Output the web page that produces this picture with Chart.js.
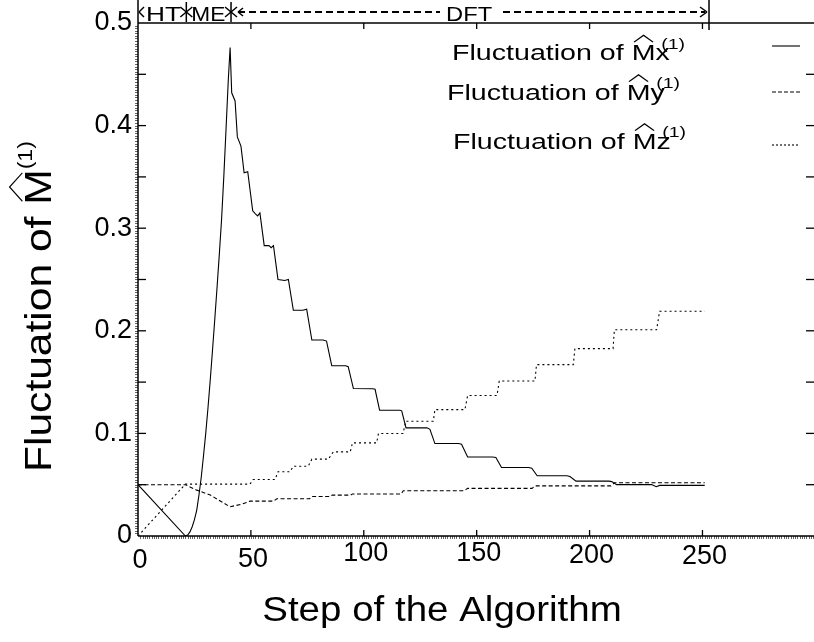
<!DOCTYPE html>
<html>
<head>
<meta charset="utf-8">
<script src="https://cdn.jsdelivr.net/npm/chart.js@4.4.0/dist/chart.umd.min.js"></script>
<style>
  html, body { margin: 0; padding: 0; background: #fff; }
  canvas { display: block; }
</style>
</head>
<body>
<canvas id="chart" width="814" height="642"></canvas>
<script>
// values
const mxSteps = [0, 21, 22, 23, 24, 25, 26, 27, 28, 29, 30, 31, 32, 33, 34, 35, 36, 37, 38, 39, 40, 40.8,
  41.5, 43, 44, 45.6, 47, 48.6, 50.8, 52, 53, 54, 55.9, 58, 59, 60, 62, 65, 66.6, 68.8, 73, 74.7,
  77, 82, 83.5, 85.8, 92, 93.1, 95.4, 104, 105, 107, 116, 116.8, 118.7, 128, 129.3, 131.5, 142, 143.3,
  146, 157, 158.5, 161, 173, 174.4, 176.8, 190, 191.3, 194, 208.5, 209.8, 212, 227.5, 229.5, 231, 251];
const mxValues = [0.05, 0, 0.001, 0.004, 0.009, 0.016, 0.025, 0.04, 0.057, 0.078, 0.1, 0.125, 0.152, 0.181, 0.211, 0.242, 0.274, 0.308, 0.35, 0.397, 0.445, 0.476,
  0.432, 0.424, 0.389, 0.38, 0.354, 0.355, 0.317, 0.314, 0.312, 0.315, 0.283, 0.283, 0.281, 0.283, 0.25, 0.249, 0.25, 0.22, 0.22, 0.221,
  0.191, 0.191, 0.19, 0.166, 0.166, 0.165, 0.1437, 0.1435, 0.143, 0.1226, 0.1226, 0.122, 0.1054, 0.1054, 0.104, 0.0901, 0.0901, 0.0895,
  0.077, 0.077, 0.0765, 0.0668, 0.0668, 0.066, 0.0587, 0.0587, 0.058, 0.0535, 0.0535, 0.053, 0.0501, 0.0501, 0.048, 0.0493, 0.0493];

const mySteps = [0, 21, 26, 32, 40.7, 46, 49.6, 60, 61.5, 76, 77, 85, 86, 94, 95, 116.5, 117.5, 144.5, 146, 174.5, 176, 209.5, 211, 251];
const myValues = [0.05, 0.05, 0.0447, 0.04, 0.0285, 0.031, 0.034, 0.034, 0.0363, 0.0363, 0.0385, 0.0385, 0.0398, 0.0398, 0.0409, 0.0409,
  0.0441, 0.0441, 0.0464, 0.0464, 0.0489, 0.0489, 0.0519, 0.0519];

const mzSteps = [0, 21, 49.6, 51, 60.7, 62, 67.3, 68.8, 75.4, 77, 84.3, 86.5, 94, 95, 105.7, 106.5, 117.4, 118.6, 130.8, 131.5,
  144.8, 146, 159, 160, 175.8, 176.5, 192.8, 193.5, 210.4, 211, 229.7, 231, 251];
const mzValues = [0, 0.0506, 0.0506, 0.055, 0.055, 0.0626, 0.0626, 0.068, 0.068, 0.0749, 0.0749, 0.082, 0.082, 0.0908, 0.0908, 0.0999, 0.0999,
  0.1119, 0.1119, 0.1232, 0.1232, 0.137, 0.137, 0.151, 0.151, 0.167, 0.167, 0.1826, 0.1826, 0.201, 0.201, 0.219, 0.219];

const xTicks = [0, 50, 100, 150, 200, 250];
const xTickRaise = [0, 1, 7, 7, 5, 4];   // the original labels sit unevenly
const yTicks = [0, 0.1, 0.2, 0.3, 0.4, 0.5];
const seriesLetters = ['x', 'y', 'z'];
const phaseLabels = ['HT', 'ME', 'DFT'];
const phaseBounds = [0, 21.4, 41.2, 252.9];

const FONT = '"Liberation Sans", Arial, sans-serif';

function toPoints(steps, values) {
  return steps.map((s, i) => ({ x: s, y: values[i] }));
}

function line(ctx, x1, y1, x2, y2) {
  ctx.beginPath(); ctx.moveTo(x1, y1); ctx.lineTo(x2, y2); ctx.stroke();
}

// "Fluctuation of M^(1)" style label, drawn at baseline (x, y) in the current transform
function mathLabel(ctx, x, y, size, sx, letter, supSize) {
  ctx.save();
  ctx.translate(x, y);
  ctx.scale(sx, 1);
  ctx.font = size + 'px ' + FONT;
  ctx.textAlign = 'left';
  ctx.textBaseline = 'alphabetic';
  ctx.fillStyle = '#000';
  ctx.strokeStyle = '#000';
  ctx.fillText('Fluctuation of', 0, 0);
  let cx = ctx.measureText('Fluctuation of ').width;
  const mw = ctx.measureText('M').width;
  const cap = size * 0.72;
  ctx.fillText('M', cx, 0);
  ctx.lineWidth = 1.1;
  ctx.beginPath();
  ctx.moveTo(cx + mw * 0.1, -cap - 2);
  ctx.lineTo(cx + mw * 0.5, -cap - size * 0.4);
  ctx.lineTo(cx + mw * 0.9, -cap - 2);
  ctx.stroke();
  cx += mw;
  let supX = cx;
  if (letter) {
    const lw = ctx.measureText(letter).width;
    ctx.fillText(letter, cx, 0);
    supX = cx + lw * 0.4;
  }
  ctx.font = supSize + 'px ' + FONT;
  ctx.fillText('(1)', supX, -cap * 0.72);
  ctx.restore();
}

function stretchText(ctx, txt, x, y, size, sx) {
  ctx.save();
  ctx.translate(x, y);
  ctx.scale(sx, 1);
  ctx.font = size + 'px ' + FONT;
  ctx.textAlign = 'left';
  ctx.textBaseline = 'alphabetic';
  ctx.fillStyle = '#000';
  ctx.fillText(txt, 0, 0);
  ctx.restore();
}

const decor = {
  id: 'decor',
  afterDraw(chart) {
    const ctx = chart.ctx;
    const xs = chart.scales.x, ys = chart.scales.y;
    const { left: L, top: T, bottom: B } = chart.chartArea;
    ctx.save();
    ctx.strokeStyle = '#000';
    ctx.fillStyle = '#000';

    // minor ticks (dense hatching along left and bottom axes)
    ctx.lineWidth = 1;
    ctx.strokeStyle = '#666';
    for (let v = 1; v < 300; v++) {
      const px = Math.round(xs.getPixelForValue(v)) + 0.5;
      line(ctx, px, B, px, B + 3);
    }
    for (let v = 0.0025; v < 0.5; v += 0.0025) {
      const py = Math.round(ys.getPixelForValue(v)) + 0.5;
      line(ctx, L - 3, py, L, py);
    }

    // frame
    ctx.strokeStyle = '#000';
    ctx.lineWidth = 1.5;
    line(ctx, L, T, 814, T);
    line(ctx, L, T, L, B);
    line(ctx, L, B, 814, B);

    // major ticks, pointing inward
    ctx.lineWidth = 1.3;
    xTicks.forEach(v => {
      if (v === 0) return;
      const px = xs.getPixelForValue(v);
      line(ctx, px, B, px, B - 6);
      line(ctx, px, T, px, T + 6);
    });
    for (let i = 1; i < 10; i++) {
      const py = ys.getPixelForValue(i * 0.05);
      line(ctx, L, py, L + 8, py);
      line(ctx, 814, py, 806, py);
    }

    // x tick labels
    ctx.font = '27px ' + FONT;
    ctx.textAlign = 'center';
    ctx.textBaseline = 'top';
    xTicks.forEach((v, i) => {
      ctx.fillText(String(v), xs.getPixelForValue(v) + 2, B + 11 - xTickRaise[i]);
    });

    // phase annotation above the plot
    const ay = 12;
    const bx = phaseBounds.map(v => xs.getPixelForValue(v));
    ctx.lineWidth = 1.5;
    line(ctx, bx[0], 0, bx[0], T);
    line(ctx, bx[0] + 6, ay - 5, bx[0] + 1, ay); line(ctx, bx[0] + 1, ay, bx[0] + 6, ay + 5);
    [bx[1], bx[2]].forEach(px => {
      line(ctx, px, 2, px, T - 1);
      line(ctx, px - 6, ay - 5, px + 6, ay + 5);
      line(ctx, px - 6, ay + 5, px + 6, ay - 5);
    });
    stretchText(ctx, phaseLabels[0], bx[0] + 8, 21, 21, 1.25);
    stretchText(ctx, phaseLabels[1], bx[1] + 5, 21, 21, 1.08);
    ctx.save();
    ctx.lineWidth = 2;
    ctx.setLineDash([7, 4]);
    line(ctx, bx[2] + 7, ay, 440, ay);
    line(ctx, 503, ay, bx[3] - 4, ay);
    ctx.restore();
    line(ctx, bx[2] + 7, ay, bx[2] + 12, ay - 4); line(ctx, bx[2] + 7, ay, bx[2] + 12, ay + 4);
    line(ctx, bx[3] - 9, ay - 5, bx[3] - 2, ay); line(ctx, bx[3] - 2, ay, bx[3] - 9, ay + 5);
    line(ctx, bx[3], 0, bx[3], T + 7);
    stretchText(ctx, phaseLabels[2], 446, 21, 21, 1.13);

    // legend
    const legX = [452, 447, 453];
    const legY = [60, 99.5, 148.5];
    const sampleY = [46, 92, 145];
    const dashes = [[], [4, 2], [2, 2]];
    seriesLetters.forEach((ch, i) => {
      mathLabel(ctx, legX[i], legY[i], 22, 1.3, ch, 15);
      ctx.save();
      ctx.lineWidth = 1.1;
      ctx.setLineDash(dashes[i]);
      line(ctx, 772, sampleY[i], 800, sampleY[i]);
      ctx.restore();
    });

    // axis titles
    ctx.save();
    ctx.font = '35px ' + FONT;
    ctx.textAlign = 'center';
    ctx.textBaseline = 'alphabetic';
    ctx.translate(442, 621);
    ctx.scale(1.1, 1);
    ctx.fillText('Step of the Algorithm', 0, 0);
    ctx.restore();

    ctx.save();
    ctx.translate(51, 472);
    ctx.rotate(-Math.PI / 2);
    mathLabel(ctx, 0, 0, 37, 1.15, '', 20);
    ctx.restore();

    ctx.restore();
  }
};

new Chart(document.getElementById('chart').getContext('2d'), {
  type: 'line',
  data: {
    datasets: [
      { label: 'Mx', data: toPoints(mxSteps, mxValues), borderColor: '#000', borderWidth: 1.1 },
      { label: 'My', data: toPoints(mySteps, myValues), borderColor: '#000', borderWidth: 1.1, borderDash: [4, 2.5] },
      { label: 'Mz', data: toPoints(mzSteps, mzValues), borderColor: '#000', borderWidth: 1.1, borderDash: [2, 3] }
    ]
  },
  options: {
    responsive: false,
    animation: false,
    layout: { padding: { top: 23, right: 0, left: 0, bottom: 0 } },
    plugins: { legend: { display: false }, tooltip: { enabled: false } },
    elements: { point: { radius: 0 }, line: { tension: 0, fill: false } },
    scales: {
      x: {
        type: 'linear', min: 0, max: 299.4,
        grid: { display: false, drawTicks: false },
        border: { display: false },
        afterBuildTicks: s => { s.ticks = xTicks.map(v => ({ value: v })); },
        afterFit: s => { s.height = 106; },
        ticks: { display: false }
      },
      y: {
        type: 'linear', min: 0, max: 0.5,
        grid: { display: false, drawTicks: false },
        border: { display: false },
        afterBuildTicks: s => { s.ticks = yTicks.map(v => ({ value: v })); },
        afterFit: s => { s.width = 138; },
        ticks: { color: '#000', font: { size: 27, family: FONT }, padding: 6, callback: v => v === 0 ? '0' : v.toFixed(1) }
      }
    }
  },
  plugins: [decor]
});
</script>
</body>
</html>
